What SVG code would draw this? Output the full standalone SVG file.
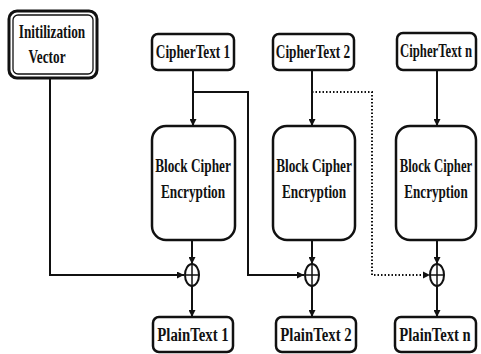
<svg xmlns="http://www.w3.org/2000/svg" width="481" height="354" viewBox="0 0 481 354">
  <style>
    .box { fill: #ffffff; stroke: #111111; stroke-width: 2.5; }
    .inner { fill: none; stroke: #111111; stroke-width: 1.3; }
    .lbl { font-family: "Liberation Serif", "Times New Roman", serif; font-weight: bold; font-size: 19px; fill: #111111; text-anchor: middle; }
    .wire { fill: none; stroke: #111111; stroke-width: 2; }
    .dot { fill: none; stroke: #111111; stroke-width: 2; stroke-dasharray: 1.5 2; }
    .xor { fill: #ffffff; stroke: #111111; stroke-width: 2; }
  </style>
  <defs>
    <marker id="arrow" viewBox="0 0 10 10" refX="10" refY="5" markerWidth="7" markerHeight="7" markerUnits="userSpaceOnUse" orient="auto">
      <path d="M0,0 L10,5 L0,10 Z" fill="#111111"/>
    </marker>
  </defs>
  <rect width="481" height="354" fill="#ffffff"/>

  <!-- connectors -->
  <g id="connectors">
    <path class="wire" d="M50,78 V275 H184" marker-end="url(#arrow)"/>
    <path class="wire" d="M193,70 V126" marker-end="url(#arrow)"/>
    <path class="wire" d="M193,92 H248 V275 H304" marker-end="url(#arrow)"/>
    <path class="wire" d="M312,70 V126" marker-end="url(#arrow)"/>
    <path class="dot" d="M312,92 H372 V275 H429"/>
    <path d="M423,271.5 L430,275 L423,278.5 Z" fill="#111111"/>
    <path class="wire" d="M437,70 V126" marker-end="url(#arrow)"/>
    <path class="wire" d="M192,240 V264" marker-end="url(#arrow)"/>
    <path class="wire" d="M312,240 V264" marker-end="url(#arrow)"/>
    <path class="wire" d="M437,240 V264" marker-end="url(#arrow)"/>
    <path class="wire" d="M192,286 V317" marker-end="url(#arrow)"/>
    <path class="wire" d="M312,286 V317" marker-end="url(#arrow)"/>
    <path class="wire" d="M437,286 V317" marker-end="url(#arrow)"/>
  </g>

  <!-- labels use a horizontally condensed bold serif -->
  <g id="iv">
    <rect class="box" x="9" y="11" width="88" height="67" rx="8" style="stroke-width:3"/>
    <rect class="inner" x="13" y="15" width="80" height="59" rx="5"/>
    <text class="lbl" transform="translate(52,38) scale(0.7,1)">Initilization</text>
    <text class="lbl" transform="translate(47,63) scale(0.7,1)">Vector</text>
  </g>

  <g id="ct1">
    <rect class="box" x="152" y="34" width="82" height="36" rx="6"/>
    <text class="lbl" transform="translate(193,58) scale(0.7,1)">CipherText 1</text>
  </g>
  <g id="ct2">
    <rect class="box" x="273" y="34" width="81" height="36" rx="6"/>
    <text class="lbl" transform="translate(313,58) scale(0.7,1)">CipherText 2</text>
  </g>
  <g id="ctn">
    <rect class="box" x="397" y="33" width="79" height="37" rx="6"/>
    <text class="lbl" transform="translate(436,57) scale(0.67,1)">CipherText n</text>
  </g>

  <g id="enc1">
    <rect class="box" x="152" y="126" width="83" height="114" rx="14"/>
    <text class="lbl" transform="translate(193,172) scale(0.7,1)">Block Cipher</text>
    <text class="lbl" transform="translate(193,198) scale(0.7,1)">Encryption</text>
  </g>
  <g id="enc2">
    <rect class="box" x="273" y="126" width="82" height="114" rx="14"/>
    <text class="lbl" transform="translate(314,172) scale(0.7,1)">Block Cipher</text>
    <text class="lbl" transform="translate(314,198) scale(0.7,1)">Encryption</text>
  </g>
  <g id="encn">
    <rect class="box" x="396" y="126" width="80" height="114" rx="14"/>
    <text class="lbl" transform="translate(436,172) scale(0.67,1)">Block Cipher</text>
    <text class="lbl" transform="translate(436,198) scale(0.69,1)">Encryption</text>
  </g>

  <g id="xor1">
    <ellipse class="xor" cx="192" cy="275" rx="7" ry="11"/>
    <path class="wire" d="M185,275 H199 M192,264 V286" style="stroke-width:1.5"/>
  </g>
  <g id="xor2">
    <ellipse class="xor" cx="312" cy="275" rx="7" ry="11"/>
    <path class="wire" d="M305,275 H319 M312,264 V286" style="stroke-width:1.5"/>
  </g>
  <g id="xorn">
    <ellipse class="xor" cx="437" cy="275" rx="7" ry="11"/>
    <path class="wire" d="M430,275 H444 M437,264 V286" style="stroke-width:1.5"/>
  </g>

  <g id="pt1">
    <rect class="box" x="153" y="317" width="80" height="35" rx="6"/>
    <text class="lbl" transform="translate(193,341) scale(0.78,1)">PlainText 1</text>
  </g>
  <g id="pt2">
    <rect class="box" x="276" y="317" width="80" height="35" rx="6"/>
    <text class="lbl" transform="translate(316,341) scale(0.78,1)">PlainText 2</text>
  </g>
  <g id="ptn">
    <rect class="box" x="395" y="317" width="81" height="35" rx="6"/>
    <text class="lbl" transform="translate(435,341) scale(0.77,1)">PlainText n</text>
  </g>
</svg>
